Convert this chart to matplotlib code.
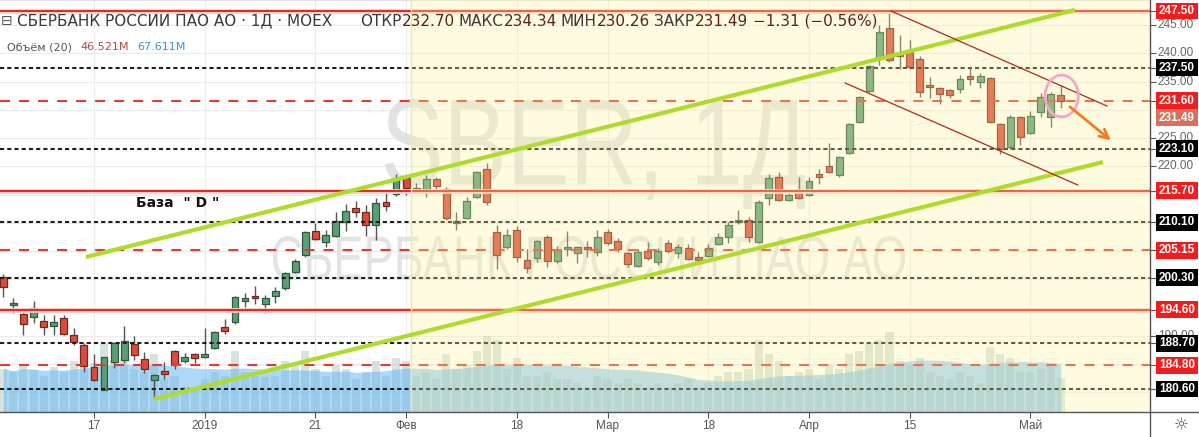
import matplotlib
matplotlib.use("Agg")
import matplotlib.pyplot as plt
import matplotlib.transforms as mtransforms
from matplotlib.patches import Rectangle, Ellipse, PathPatch
from matplotlib.lines import Line2D
from matplotlib.textpath import TextPath
from matplotlib.font_manager import FontProperties
import pandas as pd

plt.rcParams["font.family"] = ["DejaVu Sans"]
plt.rcParams["lines.scale_dashes"] = False

# daily candles, SBER, Dec 2018 - May 2019
opens = [200.42, 195.46, 193.87, 193.34, 192.63, 191.75, 193.16, 190.15, 188.38, 184.49,
         180.42, 185.38, 185.73, 188.56, 185.91, 182.19, 183.78, 187.32, 185.55, 186.79,
         186.26, 187.85, 191.57, 192.46, 196.17, 197.06, 195.64, 197.06, 198.47, 201.31,
         204.31, 208.56, 206.62, 207.68, 210.16, 212.63, 211.93, 209.62, 213.70, 215.11,
         217.94, 216.17, 216.00, 217.77, 216.00, 209.98, 210.86, 214.58, 219.54, 208.39,
         205.73, 208.74, 203.43, 203.78, 207.50, 203.25, 205.38, 204.67, 205.73, 204.85,
         208.39, 206.79, 204.67, 202.37, 205.02, 203.08, 206.44, 204.67, 205.55, 203.96,
         204.14, 206.26, 207.50, 210.16, 210.51, 206.62, 214.40, 218.12, 214.05, 215.82,
         214.93, 218.65, 220.07, 218.47, 222.37, 227.86, 233.34, 239.01, 244.49, 240.07,
         240.25, 239.01, 234.41, 233.87, 233.52, 233.70, 236.00, 234.94, 235.64, 227.50,
         223.43, 228.74, 225.91, 229.63, 228.74, 232.70]
highs = [200.95, 196.70, 194.05, 196.17, 193.69, 193.69, 193.69, 191.39, 188.74, 186.79,
         186.30, 188.90, 191.75, 189.98, 187.15, 183.20, 185.38, 187.50, 186.97, 187.00,
         191.39, 190.80, 192.99, 197.00, 197.59, 198.83, 197.23, 198.65, 201.30, 203.61,
         208.50, 209.98, 208.74, 211.93, 213.34, 213.87, 213.16, 214.40, 215.47, 218.65,
         218.10, 217.06, 218.47, 218.12, 216.35, 211.93, 214.58, 219.18, 220.60, 209.62,
         208.92, 209.45, 205.38, 206.90, 207.85, 205.91, 208.56, 205.90, 206.79, 208.74,
         208.92, 207.32, 204.90, 205.38, 206.62, 205.55, 206.97, 206.26, 206.26, 204.85,
         206.26, 208.21, 210.16, 212.28, 211.04, 214.05, 218.65, 219.01, 215.30, 218.12,
         218.12, 219.54, 224.14, 221.80, 227.70, 232.40, 237.90, 245.00, 247.50, 243.26,
         242.37, 239.54, 235.82, 234.00, 233.70, 236.18, 237.41, 236.53, 235.82, 227.60,
         229.10, 228.90, 229.80, 232.99, 233.20, 234.34]
lows = [196.88, 194.05, 190.15, 192.28, 190.15, 190.15, 190.15, 188.38, 183.61, 182.10,
        180.40, 184.31, 185.20, 185.73, 183.43, 179.00, 182.37, 184.14, 185.20, 185.20,
        186.08, 187.70, 190.33, 192.10, 195.11, 195.64, 194.05, 195.82, 198.12, 201.13,
        203.96, 206.97, 205.73, 207.50, 208.56, 211.04, 207.68, 206.97, 212.10, 214.76,
        214.93, 215.30, 214.58, 215.47, 210.51, 208.74, 210.70, 214.40, 213.16, 201.84,
        205.38, 203.08, 201.13, 203.08, 202.19, 202.90, 204.14, 202.90, 203.96, 204.14,
        206.09, 204.85, 202.19, 202.20, 203.43, 202.55, 204.67, 203.78, 203.43, 203.30,
        204.00, 206.10, 206.44, 209.80, 206.62, 206.40, 213.16, 213.90, 213.90, 214.20,
        214.80, 216.88, 218.90, 218.12, 222.20, 227.70, 233.20, 237.95, 238.50, 237.24,
        237.24, 232.28, 232.10, 231.04, 232.10, 232.99, 234.41, 233.87, 227.70, 222.19,
        223.08, 223.78, 225.70, 228.74, 226.97, 230.26]
closes = [198.65, 195.82, 192.10, 194.93, 191.57, 192.46, 190.33, 188.92, 184.67, 182.19,
          186.26, 188.74, 189.09, 186.61, 184.14, 183.07, 183.25, 184.84, 186.26, 186.08,
          186.79, 190.69, 190.86, 196.88, 196.70, 196.70, 196.70, 197.94, 201.13, 203.25,
          208.39, 207.15, 207.85, 210.33, 212.10, 211.93, 209.62, 213.52, 212.99, 217.94,
          216.17, 215.47, 217.77, 216.53, 210.86, 210.33, 213.87, 219.01, 213.70, 204.31,
          207.85, 203.96, 202.01, 206.79, 203.25, 205.20, 205.73, 205.73, 205.38, 207.50,
          206.44, 205.38, 202.72, 204.85, 203.78, 205.02, 205.02, 205.73, 203.61, 203.43,
          205.55, 207.50, 209.62, 210.51, 207.50, 213.70, 217.94, 214.05, 214.93, 214.40,
          217.41, 218.12, 219.01, 221.66, 227.50, 232.28, 237.77, 243.79, 238.83, 239.54,
          237.59, 233.17, 234.05, 232.81, 232.63, 235.47, 235.47, 236.00, 227.86, 223.08,
          228.74, 225.20, 228.92, 232.28, 232.81, 231.49]
# volume, millions of shares
volumes = [60, 55, 65, 58, 50, 62, 55, 70, 75, 68,
           95, 70, 75, 60, 55, 80, 45, 50, 35, 30,
           45, 55, 50, 85, 55, 50, 48, 50, 70, 65,
           85, 60, 50, 65, 60, 45, 55, 70, 50, 75,
           70, 50, 55, 45, 80, 60, 65, 85, 105, 100,
           60, 75, 50, 50, 55, 45, 45, 40, 35, 50,
           45, 40, 45, 40, 35, 40, 35, 40, 45, 35,
           40, 50, 55, 55, 60, 100, 80, 70, 50, 55,
           60, 45, 65, 60, 80, 85, 95, 100, 110, 70,
           65, 75, 55, 50, 45, 55, 50, 40, 90, 80,
           75, 55, 55, 60, 65, 46.521]

tick_pos = [9, 20, 31, 40, 51, 60, 70, 80, 90, 102]
tick_labels = ["17", "2019", "21", "Фев", "18", "Мар", "18", "Апр", "15", "Май"]
grid_prices = [180, 185, 190, 195, 200, 205, 210, 215, 220, 225, 230, 235, 240, 245]
shown_price_labels = [190, 220, 225, 235, 240, 245]

levels = [247.50, 237.50, 231.60, 223.10, 215.70, 210.10, 205.15, 200.30, 194.60, 188.70, 184.80, 180.60]
level_kinds = ["solid", "dot", "dash", "dot", "solid", "dot", "dash", "dot", "solid", "dot", "dash", "dot"]
last_price = 231.49
last_label_pos = 228.6

# drawings
up_channel_x, up_channel_y = [8.2, 106.4], [203.96, 247.68]
low_channel_x, low_channel_y = [15.0, 109.2], [178.83, 220.77]
fall_top_x, fall_top_y = [88.15, 109.6], [247.5, 230.69]
fall_bot_x, fall_bot_y = [83.6, 106.7], [234.76, 216.7]
circle_center, circle_w, circle_h = (105.1, 232.46), 3.3, 7.4
arrow_from, arrow_to = (105.7, 230.86), (110.2, 224.3)
highlight_start = 40.5

UP, DOWN = "#5c9e76", "#de4a3b"
UP_EDGE, DOWN_EDGE = "#2c5a3e", "#6e2a20"

fig = plt.figure(figsize=(11.99, 4.37), dpi=100)
rect = [0, 25 / 437, 1150 / 1199, 412 / 437]
axv = fig.add_axes(rect)
ax = fig.add_axes(rect, sharex=axv)
ax.patch.set_visible(False)
ax.set_xlim(-0.33, 113.87)
ax.set_ylim(176.53, 249.45)
axv.set_ylim(0, 570)

# grid in the bottom layer
grid_t = mtransforms.blended_transform_factory(axv.transAxes, ax.transData)
for p in grid_prices:
    axv.plot([0, 1], [p, p], transform=grid_t, color="#ececec", lw=0.8, zorder=0)
for t in tick_pos:
    axv.axvline(t, color="#ececec", lw=0.8, zorder=0)

# volume + MA(20)
xs = list(range(len(closes)))
axv.bar(xs, volumes, width=0.8, color="#b9ccbf", alpha=0.55, zorder=1)
ma = pd.Series(volumes).rolling(20, min_periods=1).mean()
axv.fill_between(xs, 0, ma, color="#6ab8f4", alpha=0.55, lw=0, zorder=2)
for s in axv.spines.values():
    s.set_visible(False)
axv.set_yticks([])
axv.tick_params(axis="x", length=0, labelbottom=False)


# watermark: a condensed face, so the glyph outlines are stretched upward
def watermark(text, cx, cy, w, h):
    tp = TextPath((0, 0), text, size=100, prop=FontProperties(family="Liberation Sans"))
    bb = tp.get_extents()
    tr = (mtransforms.Affine2D()
          .translate(-bb.x0 - bb.width / 2, -bb.y0 - bb.height / 2)
          .scale(w / bb.width, h / bb.height)
          .translate(cx, 437 - cy)
          .scale(1 / 100)) + fig.dpi_scale_trans
    ax.add_patch(PathPatch(tp, transform=tr, fc="#dadada", ec="none", alpha=0.75, zorder=1))


watermark("SBER, 1Д", 595, 154, 420, 110)
watermark("СБЕРБАНК РОССИИ ПАО АО", 589, 258, 632, 44)

# candles
for i, (o, h, l, c) in enumerate(zip(opens, highs, lows, closes)):
    up = c >= o
    ax.vlines(i, l, h, color="#555555", lw=1, zorder=3)
    ax.bar(i, max(abs(c - o), 0.2), bottom=min(o, c), width=0.68,
           color=UP if up else DOWN, edgecolor=UP_EDGE if up else DOWN_EDGE, lw=0.9, zorder=3.2)

# horizontal levels
for p, kind in zip(levels, level_kinds):
    if kind == "solid":
        ax.axhline(p, color="#f9cdcb", lw=3.4, zorder=4)
        ax.axhline(p, color="#e5261e", lw=1.4, zorder=4.1)
    elif kind == "dash":
        ax.axhline(p, color="#e53a30", lw=1.5, dashes=(7.2, 6.5), zorder=4.1)
    else:
        ax.axhline(p, color="#1e1e1e", lw=1.5, dashes=(3.0, 2.2), zorder=4.1)

# highlighted date range
ax.add_patch(Rectangle((highlight_start, 176.53), 120, 80, fc="#fff59d", ec="none", alpha=0.3, zorder=5))
ax.axvline(highlight_start, color="#f1ea9c", lw=1, zorder=5.1)

# trend channels
ax.plot(up_channel_x, up_channel_y, color="#aedb2c", lw=3, solid_capstyle="butt", zorder=6)
ax.plot(low_channel_x, low_channel_y, color="#aedb2c", lw=3, solid_capstyle="butt", zorder=6)
ax.plot(fall_top_x, fall_top_y, color="#b3261e", lw=0.9, zorder=6)
ax.plot(fall_bot_x, fall_bot_y, color="#b3261e", lw=0.9, zorder=6)
ax.add_patch(Ellipse(circle_center, circle_w, circle_h, fill=False, ec="#f4a7c6", lw=2, zorder=7))
ax.annotate("", xy=arrow_to, xytext=arrow_from,
            arrowprops=dict(arrowstyle="->", color="#f27d1f", lw=2, mutation_scale=16), zorder=7)

ax.text(13.2, 213.5, 'База  " D "', fontsize=10, fontweight="bold", color="#111111", va="center", zorder=8)

# price scale
lab = mtransforms.blended_transform_factory(ax.transAxes, ax.transData)
for p in shown_price_labels:
    ax.text(1.0226, p, f"{p:.2f}", transform=lab, ha="center", va="center", fontsize=8.5,
            color="#666666", family="Liberation Sans", clip_on=False, zorder=20)
for p, kind in zip(levels, level_kinds):
    fc = "#000000" if kind == "dot" else "#f21c1c"
    ax.add_patch(Rectangle((1.0052, p - 1.5), 0.0365, 3.0, transform=lab, fc=fc, ec="none",
                           clip_on=False, zorder=21))
    ax.text(1.0235, p, f"{p:.2f}", transform=lab, ha="center", va="center", fontsize=8.5,
            color="white", fontweight="bold", family="Liberation Sans", clip_on=False, zorder=22)
ax.add_patch(Rectangle((1.0052, last_label_pos - 1.5), 0.0365, 3.0, transform=lab, fc="#d9705c",
                       ec="none", clip_on=False, zorder=21))
ax.text(1.0235, last_label_pos, f"{last_price:.2f}", transform=lab, ha="center", va="center",
        fontsize=8.5, color="white", fontweight="bold", family="Liberation Sans", clip_on=False, zorder=22)

ax.yaxis.tick_right()
ax.set_yticks(shown_price_labels + levels)
ax.set_yticklabels([])
ax.tick_params(axis="y", length=4, color="#555555", width=0.8)
ax.set_xticks(tick_pos)
ax.set_xticklabels(tick_labels)
ax.tick_params(axis="x", length=4, color="#555555", width=0.8, labelcolor="#555555", labelsize=8.5, pad=2)
for lbl in ax.get_xticklabels():
    lbl.set_fontfamily("Liberation Sans")
for name, s in ax.spines.items():
    s.set_visible(name == "top")
ax.spines["top"].set_color("#e2e2e2")

fig.add_artist(Line2D([0, 1], [25 / 437, 25 / 437], transform=fig.transFigure, color="#555555", lw=1))
fig.add_artist(Line2D([1150 / 1199, 1150 / 1199], [0, 1], transform=fig.transFigure, color="#555555", lw=1))
fig.text(1181 / 1199, 1 - 425 / 437, "☼", color="#555555", fontsize=12, ha="center", va="center")

# legend line
DARK, VAL = "#3a3a3a", "#5b2417"
segments = [("ОТКР", DARK, 20), ("232.70", VAL, 0), ("МАКС", DARK, 3), ("234.34", VAL, 0),
            ("МИН", DARK, 3), ("230.26", VAL, 0), ("ЗАКР", DARK, 3), ("231.49", VAL, 0),
            ("−1.31 (−0.56%)", VAL, 4)]
fig.text(1 / 1199, 1 - 21 / 437, "⊟", color="#555555", fontsize=10, va="center", ha="left")
t = fig.text(17 / 1199, 1 - 21 / 437, "СБЕРБАНК РОССИИ ПАО АО · 1Д · MOEX", color=DARK,
             fontsize=11, va="center", ha="left", zorder=30)
for s, c, gap in segments:
    t = ax.annotate(s, xy=(1, 0.5), xycoords=t, xytext=(gap, 0), textcoords="offset points",
                    va="center", ha="left", color=c, fontsize=11, annotation_clip=False, zorder=30)

t = fig.text(7 / 1199, 1 - 47 / 437, "Объём (20)", color="#555555", fontsize=8, va="center", ha="left")
t = ax.annotate("46.521M", xy=(1, 0.5), xycoords=t, xytext=(6, 0), textcoords="offset points",
                va="center", ha="left", color="#b04a44", fontsize=8)
ax.annotate("67.611M", xy=(1, 0.5), xycoords=t, xytext=(6, 0), textcoords="offset points",
            va="center", ha="left", color="#3b8fd6", fontsize=8)

fig.savefig("out.png", dpi=100)
